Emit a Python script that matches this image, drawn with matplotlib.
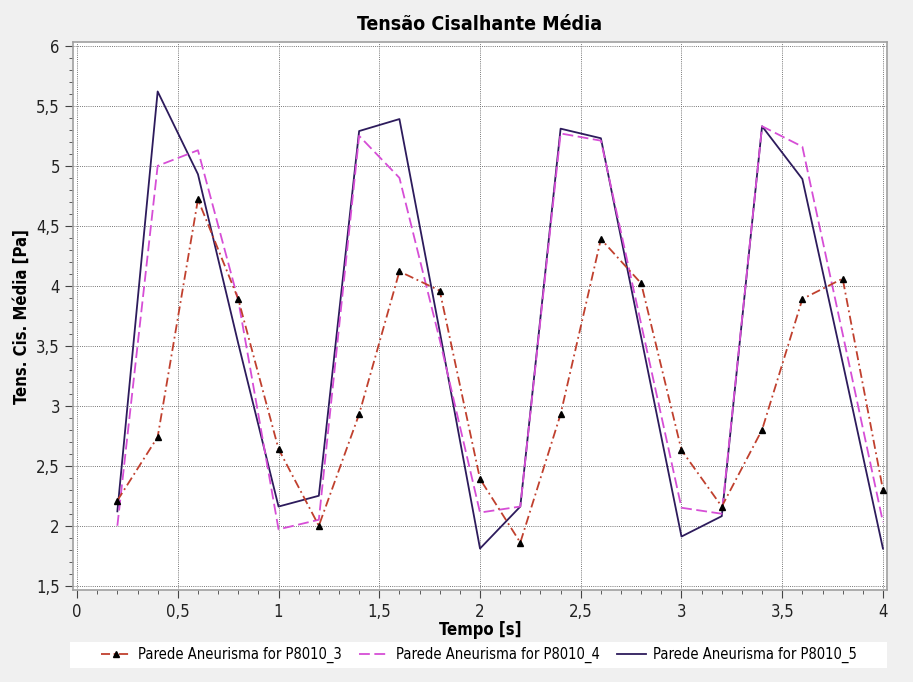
import matplotlib
matplotlib.use("Agg")
import matplotlib.pyplot as plt
from matplotlib.ticker import MultipleLocator, FuncFormatter
from matplotlib.lines import Line2D
from matplotlib.patches import Rectangle

plt.rcParams['font.family'] = ['DejaVu Sans']
plt.rcParams['font.stretch'] = 'condensed'

# Time instants [s]
tempo = [0.2, 0.4, 0.6, 0.8, 1.0, 1.2, 1.4, 1.6, 1.8, 2.0,
         2.2, 2.4, 2.6, 2.8, 3.0, 3.2, 3.4, 3.6, 3.8, 4.0]

# Mean wall shear stress [Pa]
p8010_3 = [2.21, 2.74, 4.72, 3.89, 2.64, 2.00, 2.93, 4.12, 3.96, 2.39,
           1.86, 2.93, 4.39, 4.02, 2.63, 2.16, 2.80, 3.89, 4.06, 2.30]
p8010_4 = [2.00, 5.00, 5.13, 3.88, 1.97, 2.05, 5.25, 4.90, 3.55, 2.11,
           2.16, 5.27, 5.21, 3.68, 2.15, 2.10, 5.33, 5.16, 3.60, 2.03]
p8010_5 = [2.12, 5.62, 4.93, 3.52, 2.16, 2.25, 5.29, 5.39, 3.62, 1.81,
           2.16, 5.31, 5.23, 3.57, 1.91, 2.08, 5.33, 4.89, 3.36, 1.81]

labels = ["Parede Aneurisma for P8010_3",
          "Parede Aneurisma for P8010_4",
          "Parede Aneurisma for P8010_5"]

fig = plt.figure(figsize=(9.13, 6.82), dpi=100, facecolor='#f0f0f0')
ax = fig.add_axes([0.080, 0.135, 0.8915, 0.803])
ax.set_facecolor('white')

c3, c4, c5 = '#c0402e', '#d64ed6', '#2d1b5c'
ax.plot(tempo, p8010_3, color=c3, lw=1.3, ls=(0, (5, 2, 1, 2)),
        marker='^', ms=5, mfc='black', mec='black', zorder=4)
ax.plot(tempo, p8010_4, color=c4, lw=1.3, ls=(0, (6, 2.5)), zorder=3)
ax.plot(tempo, p8010_5, color=c5, lw=1.3, zorder=2)

ax.set_xlim(-0.02, 4.02)
ax.set_ylim(1.465, 6.03)
ax.xaxis.set_major_locator(MultipleLocator(0.5))
ax.xaxis.set_minor_locator(MultipleLocator(0.1))
ax.yaxis.set_major_locator(MultipleLocator(0.5))
ax.yaxis.set_minor_locator(MultipleLocator(0.1))
fmt = FuncFormatter(lambda v, p: ('%g' % v).replace('.', ','))
ax.xaxis.set_major_formatter(fmt)
ax.yaxis.set_major_formatter(fmt)
ax.tick_params(axis='both', which='major', direction='out', length=6,
               color='#444444', labelsize=12, labelcolor='#222222')
ax.tick_params(axis='both', which='minor', direction='out', length=3,
               color='#444444')
ax.grid(True, which='major', color='#777777', ls=(0, (1, 1.2)), lw=0.7)

for s in ax.spines.values():
    s.set_color('#a0a0a0')
    s.set_linewidth(1.2)

ax.set_title("Tensão Cisalhante Média", fontsize=14, fontweight='bold', pad=9)
ax.set_xlabel("Tempo [s]", fontsize=12, fontweight='bold', labelpad=0)
ax.set_ylabel("Tens. Cis. Média [Pa]", fontsize=12, fontweight='bold', labelpad=4)

# legend strip
fig.patches.append(Rectangle((0.077, 0.021), 0.895, 0.037, transform=fig.transFigure,
                             facecolor='white', edgecolor='none', zorder=0))
handles = [Line2D([], [], color=c3, lw=1.3, ls=(0, (5, 2, 1, 2)), marker='^',
                  ms=5, mfc='black', mec='black'),
           Line2D([], [], color=c4, lw=1.3, ls=(0, (6, 2.5))),
           Line2D([], [], color=c5, lw=1.3)]
fig.legend(handles, labels, loc='center', bbox_to_anchor=(0.525, 0.0395),
           ncol=3, frameon=False, fontsize=10.5, handlelength=2.0,
           columnspacing=1.2, handletextpad=0.5)

fig.savefig("out.png", dpi=100, facecolor=fig.get_facecolor())
